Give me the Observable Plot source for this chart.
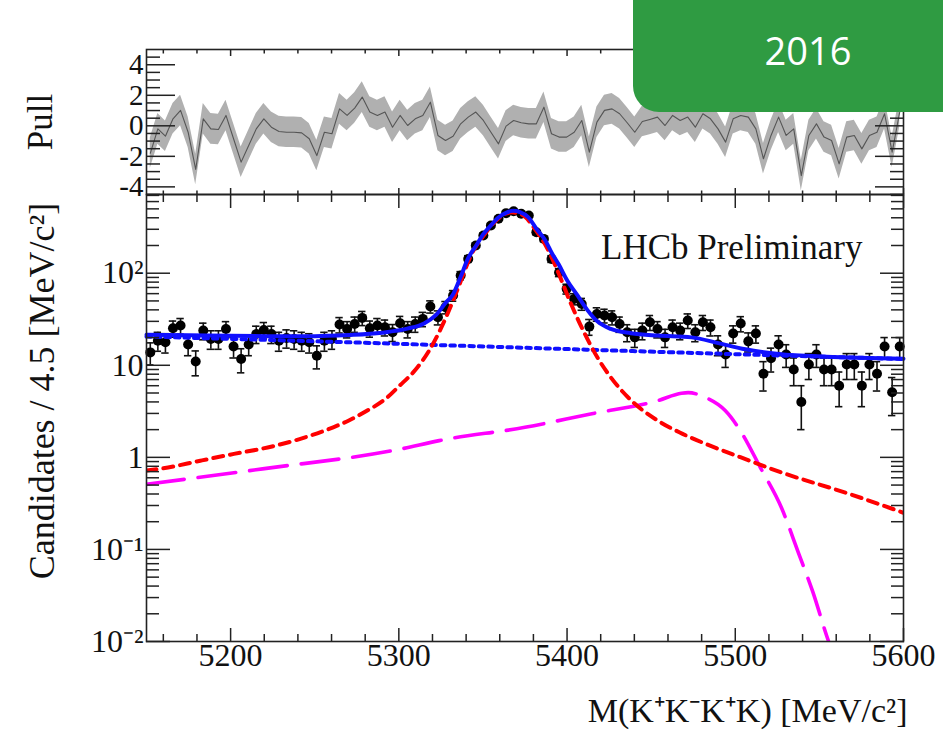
<!DOCTYPE html>
<html><head><meta charset="utf-8">
<script src="https://cdn.jsdelivr.net/npm/d3@7"></script>
<script src="https://cdn.jsdelivr.net/npm/@observablehq/plot@0.6"></script>
<style>
body{margin:0;background:#fff;}
#wrap{position:relative;width:943px;height:734px;overflow:hidden;background:#fff;}
#main,#pull{position:absolute;left:0;top:0;}
#main svg text,#pull svg text{font-family:'Liberation Serif','Times New Roman',serif;}
#badge{position:absolute;left:633px;top:-40px;width:360px;height:152px;border-radius:26px;background:#2f9b42;}
#badgeText{position:absolute;left:748px;top:26px;width:120px;text-align:center;color:#fff;font:38px/48px "Open Sans",sans-serif;}
</style></head><body>
<div id="wrap"><div id="main"></div><div id="pull"></div><div id="badge"></div><div id="badgeText">2016</div></div>
<script>
// ---- data ----
const binLow = 5150, binWidth = 4.5;
const counts = [
 13.8, 18.5, 17.8, 25.2, 27.0, 16.8, 11.0, 23.8, 19.3, 19.3,
 24.8, 16.0, 11.7, 16.8, 21.9, 24.2, 21.9, 18.5, 19.8, 19.3,
 18.5, 17.8, 12.7, 18.5, 19.3, 27.7, 24.8, 28.1, 32.7, 25.2,
 27.0, 25.9, 22.9, 28.6, 24.8, 28.1, 31.9, 43.5, 33.2, 42.7,
 57.2, 94.3, 143, 200, 257, 330, 390, 449, 472, 442,
 424, 279, 236, 143, 102, 67.6, 52.6, 46.4, 26.3, 36.1,
 34.7, 33.2, 28.1, 22.8, 20.1, 23.8, 29.3, 24.8, 20.1, 25.9,
 23.8, 30.6, 22.8, 29.3, 25.9, 16.8, 13.1, 22.1, 28.4, 18.2,
 22.1, 8.1, 11.9, 16.8, 13.1, 9.0, 4.0, 10.2, 13.1, 9.0,
 9.0, 6.0, 10.2, 10.2, 6.0, 10.2, 8.1, 16.0, 5.1, 16.0];
const pulls = [
 -1.8, -0.20, -0.68, 0.46, 1.01, -0.42, -2.86, 0.46, -0.20, -0.24,
 0.68, -0.85, -2.38, -1.29, -0.20, 0.46, -0.09, -0.37, -0.42, -0.42,
 -0.46, -0.85, -1.95, -0.42, -0.52, 1.11, 0.68, 1.16, 1.88, 0.90,
 0.68, 0.90, -0.09, 0.68, 0.02, 0.46, 0.68, 1.55, -0.63, -0.96,
 -0.68, 0.13, 0.57, 0.90, 0.35, -0.42, -1.18, -0.02, 0.35, 0.20,
 0.13, 0.13, 1.22, -0.52, -0.74, -0.74, -0.42, 0.35, -1.73, 0.24,
 1.01, 1.11, 0.79, 0.20, -0.42, 0.28, 0.42, 0.57, 0.02, 0.68,
 0.35, 0.57, -0.09, 0.79, 0.46, -0.20, -1.07, 0.46, 0.68, 0.57,
 -0.20, -2.16, -0.63, 0.57, -0.63, -0.20, -3.26, -0.63, 0.13, -0.74,
 -0.96, -2.49, -0.74, -0.63, -1.51, -0.63, -0.42, 0.79, -1.73, 0.90];

// fit components
const totalMass = [5150,5175,5200,5225,5250,5270,5290,5305,5315,5322,5328,5332,5337,5341,5346,5350,5355,5359,5364,5368,5372,5377,5382,5387,5391,5395,5400,5406,5412,5418,5426,5438,5454,5474,5490,5506,5526,5554,5600];
const totalVal  = [21.5,21.2,20.9,20.7,20.7,21.3,22.6,25,28.5,35,48,58,94,143,200,262,335,400,455,476,462,405,300,228,165,125,84,58,40,30,24.8,22.3,21,20.1,17.4,14.9,13.3,12.4,11.8];
const signalMass = [5150,5160,5182,5202,5222,5241,5261,5270,5281,5292,5300,5310,5318,5328,5336,5343,5350,5358,5363,5367,5371,5375,5381,5387,5394,5402,5410,5418,5426,5438,5454,5467,5482,5499,5527,5568,5600];
const signalVal  = [0.72,0.76,0.92,1.09,1.28,1.58,2.12,2.5,3.2,4.3,5.9,9.0,14.4,33,75,158,250,375,438,458,448,410,300,205,110,48,23,12.2,7.4,4.17,2.5,1.86,1.41,1.07,0.69,0.40,0.25];
const combMass = [5150,5269,5375,5494,5600];
const combVal  = [20.5,17.8,15.5,13.3,11.7];
const partMass = [5150,5219,5301,5324,5375,5414,5454,5468,5472,5482,5494,5503,5515,5527.6,5537.6,5546,5555.5,5562];
const partVal  = [0.51,0.75,1.23,1.52,2.12,2.96,4.13,4.97,5.05,4.49,3.22,1.95,0.77,0.28,0.091,0.035,0.01,0.005];

// axis ticks and labels
const xMajor = [5200,5300,5400,5500,5600];
const xMajorLabels = ["5200","5300","5400","5500","5600"];
const xMinor = [5160,5180,5220,5240,5260,5280,5320,5340,5360,5380,5420,5440,5460,5480,5520,5540,5560,5580];
const yMajor = [0.01,0.1,1,10,100];
const yMajorLabels = ["10\u207B\u00B2","10\u207B\u00B9","1","10","10\u00B2"];
const yMinor = [0.02,0.03,0.04,0.05,0.06,0.07,0.08,0.09,0.2,0.3,0.4,0.5,0.6,0.7,0.8,0.9,2,3,4,5,6,7,8,9,20,30,40,50,60,70,80,90,200,300,400,500,600,700];
const pMajor = [-4,-2,0,2,4];
const pMajorLabels = ["-4","-2","0","2","4"];
const pMinor = [-4.5,-3.5,-3,-2.5,-1.5,-1,-0.5,0.5,1,1.5,2.5,3,3.5,4.5];

// ---- build ----
const bins = counts.map((n, i) => ({
  m: binLow + binWidth * (i + 0.5), n, p: pulls[i],
  lo: n - Math.sqrt(n), hi: n + Math.sqrt(n)
}));
const rows = (ms, vs) => ms.map((m, i) => ({m, v: vs[i]}));
const lbl = (ticks, labels) => { const mp = new Map(ticks.map((t, i) => [t, labels[i]])); return d => mp.get(d); };
const font = "'Liberation Serif','Times New Roman',serif";
const ink = "#222";
const blank = () => "";
const tk = {tickFormat: blank, label: null, stroke: ink, strokeWidth: 1.5};
const tx = {tickSize: 0, label: null, fill: "#111", fontFamily: font};

const main = Plot.plot({
  width: 943, height: 734,
  marginLeft: 146, marginRight: 40, marginTop: 194, marginBottom: 93,
  style: {background: "transparent", fontFamily: font, overflow: "visible", color: "#111"},
  x: {domain: [5150, 5600], label: null},
  y: {type: "log", domain: [0.01, 716], label: null},
  marks: [
    Plot.ruleX(bins, {x: "m", y1: "lo", y2: "hi", stroke: "#111", strokeWidth: 1.6}),
    Plot.ruleY(bins, {y: "lo", x1: d => d.m - 2.2, x2: d => d.m + 2.2, stroke: "#111", strokeWidth: 1.6}),
    Plot.ruleY(bins, {y: "hi", x1: d => d.m - 2.2, x2: d => d.m + 2.2, stroke: "#111", strokeWidth: 1.6}),
    Plot.dot(bins, {x: "m", y: "n", r: 5, fill: "#000"}),
    Plot.line(rows(combMass, combVal), {x: "m", y: "v", stroke: "#1010ff", strokeWidth: 4, strokeDasharray: "4.5,5", curve: "monotone-x"}),
    Plot.line(rows(partMass, partVal), {x: "m", y: "v", stroke: "#ff00ff", strokeWidth: 3.6, strokeDasharray: "38,14", curve: "monotone-x", clip: true}),
    Plot.line(rows(signalMass, signalVal), {x: "m", y: "v", stroke: "#ff0000", strokeWidth: 4, strokeDasharray: "10,7", curve: "monotone-x", clip: true}),
    Plot.line(rows(totalMass, totalVal), {x: "m", y: "v", stroke: "#1010ff", strokeWidth: 4, curve: "monotone-x"}),
    // ticks (inside, all four sides)
    Plot.axisX({anchor: "bottom", ticks: xMajor, tickSize: -13, ...tk}),
    Plot.axisX({anchor: "bottom", ticks: xMinor, tickSize: -7, ...tk}),
    Plot.axisX({anchor: "top", ticks: xMajor, tickSize: -13, ...tk}),
    Plot.axisX({anchor: "top", ticks: xMinor, tickSize: -7, ...tk}),
    Plot.axisY({anchor: "left", ticks: yMajor, tickSize: -24, ...tk}),
    Plot.axisY({anchor: "left", ticks: yMinor, tickSize: -13, ...tk}),
    Plot.axisY({anchor: "right", ticks: yMajor, tickSize: -24, ...tk}),
    Plot.axisY({anchor: "right", ticks: yMinor, tickSize: -13, ...tk}),
    // tick labels
    Plot.axisX({anchor: "bottom", ticks: xMajor, tickPadding: 2, tickFormat: lbl(xMajor, xMajorLabels), fontSize: 32, ...tx}),
    Plot.axisY({anchor: "left", ticks: yMajor, tickPadding: 3, tickFormat: lbl(yMajor, yMajorLabels), fontSize: 32, ...tx}),
    Plot.frame({stroke: ink, strokeWidth: 1.6}),
    // titles
    Plot.text(["LHCb Preliminary"], {frameAnchor: "top-right", textAnchor: "end", lineAnchor: "middle", dx: -41, dy: 53, fontSize: 35, fill: "#111", fontFamily: font}),
    Plot.text(["M(K\u207AK\u207BK\u207AK) [MeV/c\u00B2]"], {frameAnchor: "bottom-right", textAnchor: "end", lineAnchor: "middle", dx: 4, dy: 70, fontSize: 34, fill: "#111", fontFamily: font}),
    Plot.text(["Candidates / 4.5 [MeV/c\u00B2]"], {frameAnchor: "left", rotate: -90, textAnchor: "middle", lineAnchor: "middle", dx: -104, dy: -27, fontSize: 36, fill: "#111", fontFamily: font})
  ]
});
document.getElementById("main").append(main);

const pull = Plot.plot({
  width: 943, height: 195,
  marginLeft: 146, marginRight: 40, marginTop: 49, marginBottom: 1,
  style: {background: "transparent", fontFamily: font, overflow: "visible", color: "#111"},
  x: {domain: [5150, 5600], label: null},
  y: {domain: [-4.5, 5], label: null},
  marks: [
    Plot.areaY(bins, {x: "m", y1: d => d.p - 1, y2: d => d.p + 1, fill: "#b0b0b0", clip: true}),
    Plot.lineY(bins, {x: "m", y: "p", stroke: "#555", strokeWidth: 1.1, clip: true}),
    Plot.axisX({anchor: "bottom", ticks: xMajor, tickSize: -6, ...tk}),
    Plot.axisX({anchor: "bottom", ticks: xMinor, tickSize: -3.5, ...tk}),
    Plot.axisX({anchor: "top", ticks: xMajor, tickSize: -6, ...tk}),
    Plot.axisX({anchor: "top", ticks: xMinor, tickSize: -3.5, ...tk}),
    Plot.axisY({anchor: "left", ticks: pMajor, tickSize: -29, ...tk}),
    Plot.axisY({anchor: "left", ticks: pMinor, tickSize: -14, ...tk}),
    Plot.axisY({anchor: "right", ticks: pMajor, tickSize: -29, ...tk}),
    Plot.axisY({anchor: "right", ticks: pMinor, tickSize: -14, ...tk}),
    Plot.axisY({anchor: "left", ticks: pMajor, tickPadding: 3, tickFormat: lbl(pMajor, pMajorLabels), fontSize: 29, ...tx}),
    Plot.frame({stroke: ink, strokeWidth: 1.6}),
    Plot.text(["Pull"], {frameAnchor: "left", rotate: -90, textAnchor: "middle", lineAnchor: "middle", dx: -106, dy: 0, fontSize: 35, fill: "#111", fontFamily: font})
  ]
});
document.getElementById("pull").append(pull);
</script>
</body></html>
